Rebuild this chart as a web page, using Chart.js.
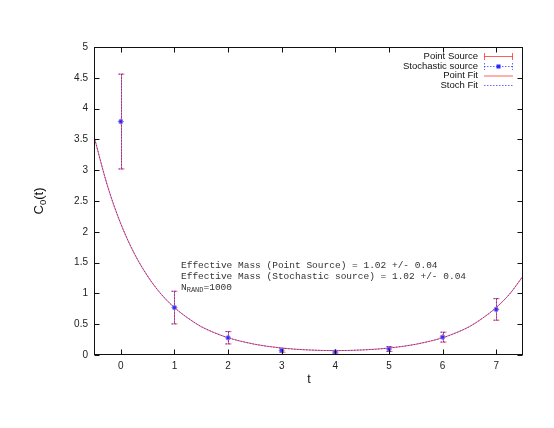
<!DOCTYPE html>
<html>
<head>
<meta charset="utf-8">
<script src="https://cdn.jsdelivr.net/npm/chart.js@4.4.1/dist/chart.umd.min.js"></script>
<style>
  html, body { margin: 0; padding: 0; background: #ffffff; }
  canvas { display: block; }
</style>
</head>
<body>
<canvas id="c" width="554" height="428"></canvas>
<script>
// ---- data ----
const tVals    = [0, 1, 2, 3, 4, 5, 6, 7];
const pointSrc = [3.79, 0.77, 0.28, 0.075, 0.05, 0.097, 0.29, 0.74];
const pointErr = [0.77, 0.265, 0.10, 0.03, 0.02, 0.04, 0.08, 0.175];
const stochSrc = [3.79, 0.77, 0.28, 0.075, 0.05, 0.097, 0.29, 0.74];
const stochErr = [0.77, 0.265, 0.10, 0.03, 0.02, 0.04, 0.08, 0.175];

const fitT     = [-0.5, -0.25, 0, 0.25, 0.5, 0.75, 1, 1.25, 1.5, 1.75, 2, 2.25, 2.5, 2.75, 3, 3.25, 3.5, 3.75, 4,
                  4.25, 4.5, 4.75, 5, 5.25, 5.5, 5.75, 6, 6.25, 6.5, 6.75, 7, 7.25, 7.5];
const pointFit = [3.55, 2.75, 2.13, 1.65, 1.28, 0.99, 0.77, 0.60, 0.46, 0.36, 0.28, 0.221, 0.174, 0.139, 0.113, 0.094, 0.082, 0.074, 0.072,
                  0.074, 0.082, 0.094, 0.113, 0.139, 0.174, 0.221, 0.28, 0.36, 0.46, 0.60, 0.77, 0.99, 1.28];
const stochFit = [3.55, 2.75, 2.13, 1.65, 1.28, 0.99, 0.77, 0.60, 0.46, 0.36, 0.28, 0.221, 0.174, 0.139, 0.113, 0.094, 0.082, 0.074, 0.072,
                  0.074, 0.082, 0.094, 0.113, 0.139, 0.174, 0.221, 0.28, 0.36, 0.46, 0.60, 0.77, 0.99, 1.28];

const xTicks = [0, 1, 2, 3, 4, 5, 6, 7];
const yTicks = [0, 0.5, 1, 1.5, 2, 2.5, 3, 3.5, 4, 4.5, 5];

const legendLabels = ['Point Source', 'Stochastic source', 'Point Fit', 'Stoch Fit'];
const noteLines = ['Effective Mass (Point Source) = 1.02 +/- 0.04',
                   'Effective Mass (Stochastic source) = 1.02 +/- 0.04'];
const nRandMain = 'N', nRandSub = 'RAND', nRandRest = '=1000';
const xTitle = 't';
const yTitleMain = 'C', yTitleSub = '0', yTitleRest = '(t)';

// ---- styles ----
const RED = 'rgba(255,40,40,0.75)';
const BLUE = 'rgba(40,40,255,0.7)';
const MARK = 'rgb(40,40,255)';
const SANS = '"Liberation Sans", Arial, sans-serif';
const MONO = '"Liberation Mono", "Courier New", monospace';

const zip = (xs, ys) => xs.map((x, i) => ({ x: x, y: ys[i] }));

const decor = {
  id: 'decor',
  beforeDatasetsDraw(chart) {
    const ctx = chart.ctx, xs = chart.scales.x, ys = chart.scales.y;
    ctx.save();
    const drawErr = (vals, errs, color, dash) => {
      ctx.strokeStyle = color;
      ctx.lineWidth = 1;
      ctx.setLineDash(dash);
      vals.forEach((v, i) => {
        const x = Math.round(xs.getPixelForValue(tVals[i])) + 0.5;
        const yt = ys.getPixelForValue(v + errs[i]);
        const yb = ys.getPixelForValue(v - errs[i]);
        ctx.beginPath();
        ctx.moveTo(x, yt); ctx.lineTo(x, yb);
        ctx.moveTo(x - 3, yt); ctx.lineTo(x + 3, yt);
        ctx.moveTo(x - 3, yb); ctx.lineTo(x + 3, yb);
        ctx.stroke();
      });
    };
    drawErr(pointSrc, pointErr, RED, []);
    drawErr(stochSrc, stochErr, BLUE, [1.5, 1.5]);
    ctx.restore();
  },
  afterDraw(chart) {
    const ctx = chart.ctx, xs = chart.scales.x, ys = chart.scales.y;
    const a = chart.chartArea;
    ctx.save();
    // frame
    ctx.strokeStyle = '#111';
    ctx.lineWidth = 1;
    ctx.setLineDash([]);
    const L = Math.round(a.left) + 0.5, R = Math.round(a.right) - 0.5;
    const T = Math.round(a.top) + 0.5, B = Math.round(a.bottom) - 0.5;
    ctx.strokeRect(L, T, R - L, B - T);
    ctx.beginPath();
    xTicks.forEach(v => {
      const x = Math.round(xs.getPixelForValue(v)) + 0.5;
      ctx.moveTo(x, B); ctx.lineTo(x, B - 5);
      ctx.moveTo(x, T); ctx.lineTo(x, T + 5);
    });
    yTicks.forEach(v => {
      const y = Math.round(ys.getPixelForValue(v)) + 0.5;
      ctx.moveTo(L, y); ctx.lineTo(L + 5, y);
      ctx.moveTo(R, y); ctx.lineTo(R - 5, y);
    });
    ctx.stroke();

    // legend
    ctx.font = '9.5px ' + SANS;
    ctx.fillStyle = '#111';
    ctx.textAlign = 'right';
    ctx.textBaseline = 'middle';
    const rows = [56, 66, 75.5, 85];
    const sx0 = 484, sx1 = 513;
    legendLabels.forEach((lab, i) => ctx.fillText(lab, 478, rows[i]));
    ctx.lineWidth = 1;
    ctx.strokeStyle = RED; ctx.setLineDash([]);
    ctx.beginPath();
    ctx.moveTo(sx0, rows[0] + 0.5); ctx.lineTo(sx1, rows[0] + 0.5);
    ctx.moveTo(sx0 + 0.5, rows[0] - 3); ctx.lineTo(sx0 + 0.5, rows[0] + 4);
    ctx.moveTo(sx1 - 0.5, rows[0] - 3); ctx.lineTo(sx1 - 0.5, rows[0] + 4);
    ctx.stroke();
    ctx.strokeStyle = BLUE; ctx.setLineDash([1.5, 1.5]);
    ctx.beginPath();
    ctx.moveTo(sx0, rows[1] + 0.5); ctx.lineTo(sx1, rows[1] + 0.5);
    ctx.moveTo(sx0 + 0.5, rows[1] - 3); ctx.lineTo(sx0 + 0.5, rows[1] + 4);
    ctx.moveTo(sx1 - 0.5, rows[1] - 3); ctx.lineTo(sx1 - 0.5, rows[1] + 4);
    ctx.stroke();
    ctx.setLineDash([]);
    ctx.fillStyle = MARK;
    ctx.fillRect((sx0 + sx1) / 2 - 2, rows[1] - 1.5, 4, 4);
    ctx.strokeStyle = RED;
    ctx.beginPath(); ctx.moveTo(sx0, rows[2] + 0.5); ctx.lineTo(sx1, rows[2] + 0.5); ctx.stroke();
    ctx.strokeStyle = BLUE; ctx.setLineDash([1.5, 1.5]);
    ctx.beginPath(); ctx.moveTo(sx0, rows[3] + 0.5); ctx.lineTo(sx1, rows[3] + 0.5); ctx.stroke();
    ctx.setLineDash([]);

    // annotation text
    ctx.fillStyle = '#333';
    ctx.textAlign = 'left';
    ctx.textBaseline = 'alphabetic';
    ctx.font = '9.5px ' + MONO;
    ctx.fillText(noteLines[0], 181, 267.5);
    ctx.fillText(noteLines[1], 181, 278.5);
    let nx = 181;
    ctx.fillText(nRandMain, nx, 289.5);
    nx += ctx.measureText(nRandMain).width;
    ctx.font = '7px ' + MONO;
    ctx.fillText(nRandSub, nx, 291.5);
    nx += ctx.measureText(nRandSub).width;
    ctx.font = '9.5px ' + MONO;
    ctx.fillText(nRandRest, nx, 289.5);

    // axis titles
    ctx.fillStyle = '#111';
    ctx.font = '12.5px ' + SANS;
    ctx.textAlign = 'center';
    ctx.textBaseline = 'middle';
    ctx.fillText(xTitle, 309, 380);

    ctx.translate(38, 201);
    ctx.rotate(-Math.PI / 2);
    ctx.textAlign = 'left';
    ctx.textBaseline = 'alphabetic';
    ctx.font = '13px ' + SANS;
    const w1 = ctx.measureText(yTitleMain).width;
    const w3 = ctx.measureText(yTitleRest).width;
    ctx.font = '9.5px ' + SANS;
    const w2 = ctx.measureText(yTitleSub).width;
    let px = -(w1 + w2 + w3) / 2;
    const base = 4.5;
    ctx.font = '13px ' + SANS;
    ctx.fillText(yTitleMain, px, base); px += w1;
    ctx.font = '9.5px ' + SANS;
    ctx.fillText(yTitleSub, px, base + 3); px += w2;
    ctx.font = '13px ' + SANS;
    ctx.fillText(yTitleRest, px, base);
    ctx.restore();
  }
};

new Chart(document.getElementById('c'), {
  type: 'scatter',
  data: {
    datasets: [
      {
        label: legendLabels[1],
        data: zip(tVals, stochSrc),
        showLine: false,
        pointStyle: 'rect',
        pointRadius: 2.5,
        borderWidth: 1,
        borderColor: 'rgba(120,120,255,0.8)',
        backgroundColor: MARK,
        order: 0
      },
      {
        label: legendLabels[0],
        data: zip(tVals, pointSrc),
        showLine: false,
        pointStyle: 'cross',
        pointRadius: 3,
        borderWidth: 1,
        borderColor: RED,
        backgroundColor: RED,
        order: 1
      },
      {
        label: legendLabels[3],
        data: zip(fitT, stochFit),
        showLine: true,
        pointRadius: 0,
        borderColor: BLUE,
        borderWidth: 1,
        borderDash: [1.5, 1.5],
        cubicInterpolationMode: 'monotone',
        order: 2
      },
      {
        label: legendLabels[2],
        data: zip(fitT, pointFit),
        showLine: true,
        pointRadius: 0,
        borderColor: RED,
        borderWidth: 1,
        cubicInterpolationMode: 'monotone',
        order: 3
      }
    ]
  },
  options: {
    responsive: false,
    animation: false,
    layout: { padding: { left: 0, right: 31, top: 47, bottom: 0 } },
    plugins: { legend: { display: false }, tooltip: { enabled: false } },
    scales: {
      x: {
        type: 'linear', min: -0.5, max: 7.5,
        afterBuildTicks: s => { s.ticks = xTicks.map(v => ({ value: v })); },
        afterFit: s => { s.height = 73; },
        grid: { display: false, drawTicks: false },
        border: { display: false },
        ticks: { padding: 5, color: '#222', font: { family: SANS, size: 10 }, maxRotation: 0, autoSkip: false, callback: v => String(v) }
      },
      y: {
        type: 'linear', min: 0, max: 5,
        afterBuildTicks: s => { s.ticks = yTicks.map(v => ({ value: v })); },
        afterFit: s => { s.width = 94; },
        grid: { display: false, drawTicks: false },
        border: { display: false },
        ticks: { padding: 6, color: '#222', font: { family: SANS, size: 10 }, autoSkip: false, callback: v => String(v) }
      }
    }
  },
  plugins: [decor]
});
</script>
</body>
</html>
